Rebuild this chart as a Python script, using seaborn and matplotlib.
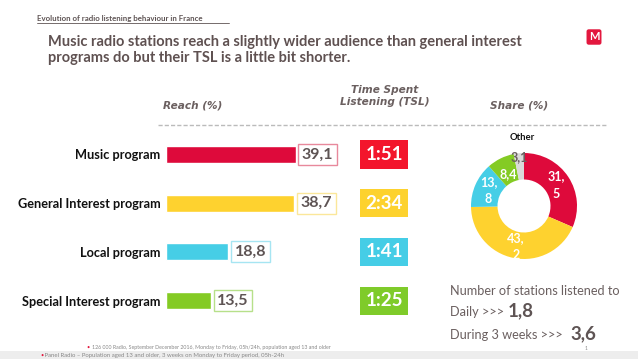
import matplotlib
matplotlib.use('Agg')
import numpy as np
import matplotlib.pyplot as plt
import matplotlib.transforms as mtransforms
from matplotlib.lines import Line2D
from matplotlib.patches import Rectangle
import seaborn as sns

# data
programs = ['Music program', 'General Interest program', 'Local program', 'Special Interest program']
reach = [39.1, 38.7, 18.8, 13.5]
reach_labels = ['39,1', '38,7', '18,8', '13,5']
tsl = ['1:51', '2:34', '1:41', '1:25']
share = [31.5, 43.2, 13.8, 8.4, 3.1]
share_labels = ['31,\n5', '43,\n2', '13,\n8', '8,4', '3,1']

bar_colors = ['#DE0A3B', '#FED22F', '#46CEE6', '#84CB24']
edge_colors = ['#E8899C', '#FBE79A', '#A6E5F2', '#B7E08A']
tsl_colors = ['#F3152C', '#FDD22E', '#45CDE6', '#7FCB2A']
pie_colors = ['#DE0A3B', '#FED22F', '#46CEE6', '#84CB24', '#DADADA']
label_dist = [0.72, 0.78, 0.73, 0.67, 0.93]

sns.set_style('white')
plt.rcParams['font.family'] = ['Lato', 'DejaVu Sans']

W, H = 638, 359
fig = plt.figure(figsize=(W / 100, H / 100), dpi=100)
grey = '#5E5454'

def fx(x):
    return x / W

def fy(y):
    return 1 - y / H

# titles
fig.text(fx(37), fy(18), 'Evolution of radio listening behaviour in France', fontsize=5.7,
         fontweight='bold', color=grey, va='center')
fig.add_artist(Line2D([fx(37), fx(229)], [fy(23), fy(23)], color=grey, lw=0.6))
fig.text(fx(48), fy(50), 'Music radio stations reach a slightly wider audience than general interest\n'
         'programs do but their TSL is a little bit shorter.', fontsize=10.5, fontweight='bold',
         color='#5F5151', va='center', linespacing=1.25)

# logo
fig.text(fx(594), fy(37), 'M', fontsize=8, fontweight='bold', color='white', ha='center', va='center',
         bbox=dict(boxstyle='round,pad=0.2', fc='#E3173E', ec='none'))

# column headers
hdr = dict(family='DejaVu Sans', fontsize=7.6, fontstyle='italic', fontweight='bold',
           color='#6B6060', ha='center', va='center')
fig.text(fx(193), fy(105), 'Reach (%)', **hdr)
fig.text(fx(385), fy(96), 'Time Spent\nListening (TSL)', linespacing=1.3, **hdr)
fig.text(fx(519), fy(105), 'Share (%)', **hdr)
fig.add_artist(Line2D([fx(158), fx(608)], [fy(125), fy(125)], color='#BBBBBB', lw=1,
                      linestyle=(0, (3, 1.5))))

# reach bars
ax = fig.add_axes([fx(166), fy(325), 199 / W, 195 / H])
sns.barplot(x=reach, y=programs, hue=programs, palette=bar_colors, width=0.35,
            legend=False, saturation=1, ax=ax)
ax.set_xlim(0, 60)
ax.set_ylim(3.5, -0.5)
ax.set_xticks([])
ax.set_xlabel(None)
ax.set_ylabel(None)
for s in ax.spines.values():
    s.set_visible(False)
ax.tick_params(axis='y', length=0, pad=4)
for lab in ax.get_yticklabels():
    lab.set_fontweight('bold')
    lab.set_fontsize(9.2)
    lab.set_color('#111111')

for i, v in enumerate(reach):
    ax.annotate(reach_labels[i], xy=(v, i), xytext=(4.5, 0), textcoords='offset points',
                ha='left', va='center', fontsize=11.5, fontweight='bold', color=grey,
                bbox=dict(boxstyle='square,pad=0.22', fc='white', ec=edge_colors[i], lw=1))

blend = mtransforms.blended_transform_factory(ax.transAxes, ax.transData)
for i, t in enumerate(tsl):
    ax.text((384 - 166) / 199, i, t, transform=blend, ha='center', va='center', fontsize=13.5,
            fontweight='bold', color='white', clip_on=False,
            bbox=dict(boxstyle='square,pad=0.3', fc=tsl_colors[i], ec='none'))

# share donut
r = 53
ax2 = fig.add_axes([fx(524 - r), fy(206 + r), 2 * r / W, 2 * r / H])
wedges, texts, autotexts = ax2.pie(share, colors=pie_colors, startangle=90, counterclock=False,
                                   radius=1, wedgeprops=dict(width=0.5, edgecolor='none'),
                                   autopct='%1.1f', pctdistance=0.73)
for i, (w, at) in enumerate(zip(wedges, autotexts)):
    ang = np.deg2rad((w.theta1 + w.theta2) / 2)
    at.set_position((label_dist[i] * np.cos(ang), label_dist[i] * np.sin(ang)))
    at.set_text(share_labels[i])
    at.set_fontsize(9)
    at.set_fontweight('bold')
    at.set_linespacing(1.5)
    at.set_color('#6B6060' if i == 4 else 'white')
ax2.set_aspect('equal')
ax2.set_xlim(-1, 1)
ax2.set_ylim(-1, 1)
ax2.axis('off')
fig.text(fx(522), fy(137), 'Other', fontsize=6.8, fontweight='bold', color='#111111',
         ha='center', va='center')

# stations listened
fig.text(fx(450), fy(291), 'Number of stations listened to', fontsize=9.2, color='#6B6060', va='center')
fig.text(fx(450), fy(312), 'Daily >>>', fontsize=9.2, color='#6B6060', va='center')
fig.text(fx(508), fy(311), '1,8', fontsize=13.5, fontweight='bold', color=grey, va='center')
fig.text(fx(450), fy(335), 'During 3 weeks >>>', fontsize=9.2, color='#6B6060', va='center')
fig.text(fx(570), fy(334), '3,6', fontsize=13.5, fontweight='bold', color=grey, va='center')

# footnotes
fig.add_artist(Rectangle((0, 0), 1, 8 / H, transform=fig.transFigure, fc='#EDEDED', ec='none'))
fig.text(fx(86), fy(347), '\u2022', fontsize=4, color='#E3173E', va='center')
fig.text(fx(92), fy(347), '126 000 Radio, September December 2016, Monday to Friday, 05h/24h, '
         'population aged 13 and older', fontsize=3.8, color='#888888', va='center')
fig.text(fx(40), fy(355), '\u2022', fontsize=4, color='#E3173E', va='center')
fig.text(fx(43), fy(355), ' Panel Radio \u2013 Population aged 13 and older, 3 weeks on Monday '
         'to Friday period, 05h-24h', fontsize=4.3, color='#888888', va='center')
fig.text(fx(585), fy(348), '1', fontsize=3.5, color='#888888', va='center')

fig.savefig('out.png', dpi=100)
